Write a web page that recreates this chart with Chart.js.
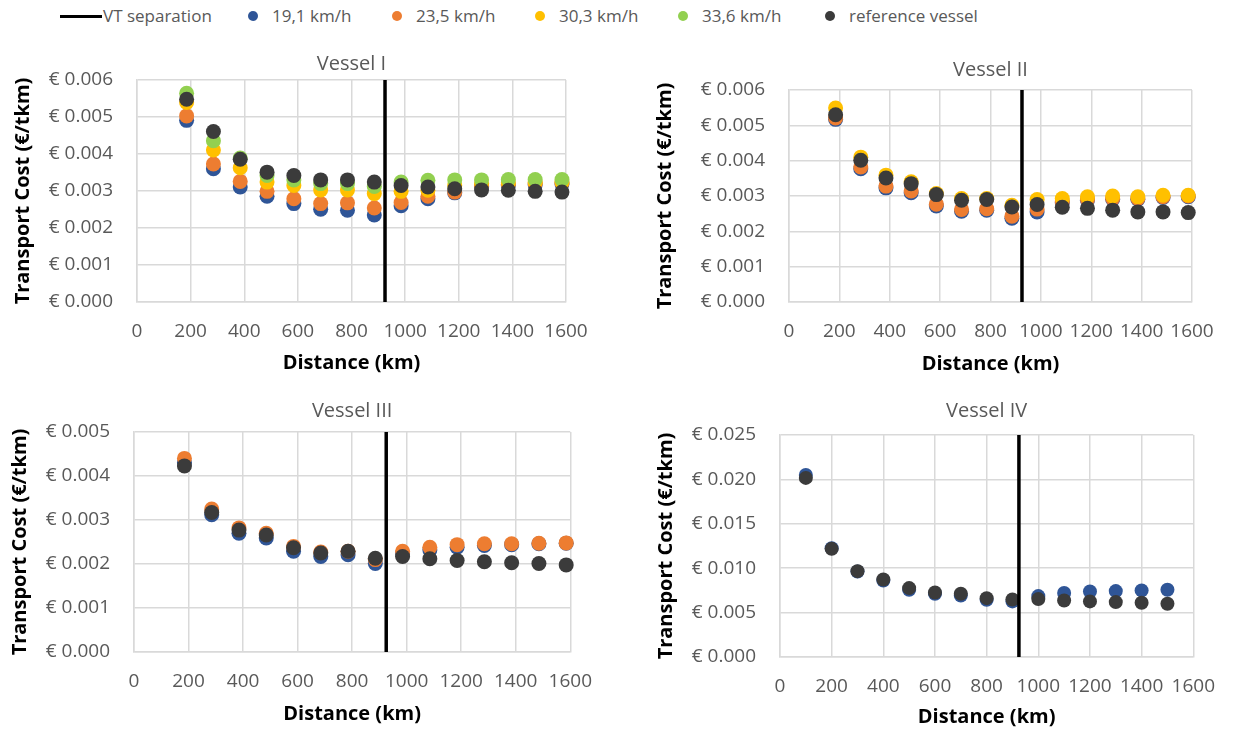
<!DOCTYPE html>
<html>
<head>
<meta charset="utf-8">
<script src="https://cdn.jsdelivr.net/npm/chart.js@4.4.1/dist/chart.umd.min.js"></script>
<style>
body { margin: 0; background: #fff; width: 1233px; height: 730px; position: relative; overflow: hidden; font-family: 'Open Sans', sans-serif; }
.box { position: absolute; }
.lg { position: absolute; top: 5px; white-space: nowrap; line-height: 22px; font-size: 17px; color: #595959; }
.dot { position: absolute; width: 10px; height: 10px; border-radius: 50%; top: 11px; }
.vtline { position: absolute; left: 60px; top: 15px; width: 42px; height: 3px; background: #000; }
</style>
</head>
<body>

<div id="legend"></div>

<div class="box" style="left:0px;top:40px;width:610px;height:340px"><canvas id="c1" width="610" height="340"></canvas></div>
<div class="box" style="left:640px;top:40px;width:593px;height:340px"><canvas id="c2" width="593" height="340"></canvas></div>
<div class="box" style="left:0px;top:385px;width:610px;height:345px"><canvas id="c3" width="610" height="345"></canvas></div>
<div class="box" style="left:640px;top:385px;width:593px;height:345px"><canvas id="c4" width="593" height="345"></canvas></div>

<script>
// distances (km)
var distA = [185, 285, 385, 485, 585, 685, 785, 885, 985, 1085, 1185, 1285, 1385, 1485, 1585];
var distB = [100, 200, 300, 400, 500, 600, 700, 800, 900, 1000, 1100, 1200, 1300, 1400, 1500];
var vtSeparation = 925;

// Vessel I
var v1_191 = [0.00491, 0.00360, 0.00311, 0.00286, 0.00266, 0.00251, 0.00248, 0.00235, 0.00260, 0.00279, 0.00295, 0.00312, 0.00315, 0.00317, 0.00319];
var v1_235 = [0.00503, 0.00373, 0.00326, 0.00299, 0.00279, 0.00266, 0.00268, 0.00254, 0.00269, 0.00286, 0.00297, 0.00315, 0.00318, 0.00320, 0.00322];
var v1_303 = [0.00539, 0.00411, 0.00363, 0.00324, 0.00315, 0.00303, 0.00303, 0.00293, 0.00299, 0.00302, 0.00315, 0.00321, 0.00322, 0.00323, 0.00324];
var v1_336 = [0.00564, 0.00436, 0.00389, 0.00342, 0.00330, 0.00320, 0.00320, 0.00312, 0.00324, 0.00329, 0.00330, 0.00330, 0.00331, 0.00331, 0.00331];
var v1_ref = [0.00548, 0.00461, 0.00386, 0.00351, 0.00342, 0.00330, 0.00330, 0.00324, 0.00315, 0.00311, 0.00306, 0.00303, 0.00302, 0.00299, 0.00297];

// Vessel II
var v2_191 = [0.00517, 0.00377, 0.00323, 0.00309, 0.00272, 0.00257, 0.00260, 0.00237, 0.00255, 0.00281, 0.00288, 0.00291, 0.00291, 0.00296, 0.00298];
var v2_235 = [0.00521, 0.00382, 0.00328, 0.00314, 0.00277, 0.00262, 0.00264, 0.00243, 0.00263, 0.00284, 0.00290, 0.00293, 0.00293, 0.00298, 0.00300];
var v2_303 = [0.00549, 0.00410, 0.00359, 0.00340, 0.00307, 0.00293, 0.00293, 0.00274, 0.00290, 0.00293, 0.00298, 0.00300, 0.00298, 0.00302, 0.00302];
var v2_ref = [0.00530, 0.00401, 0.00351, 0.00335, 0.00304, 0.00288, 0.00290, 0.00269, 0.00276, 0.00268, 0.00265, 0.00260, 0.00255, 0.00255, 0.00253];

// Vessel III
var v3_191 = [0.00430, 0.00312, 0.00270, 0.00259, 0.00229, 0.00217, 0.00221, 0.00201, 0.00225, 0.00232, 0.00238, 0.00242, 0.00244, 0.00246, 0.00247];
var v3_235 = [0.00440, 0.00325, 0.00282, 0.00270, 0.00240, 0.00227, 0.00229, 0.00210, 0.00229, 0.00238, 0.00244, 0.00246, 0.00246, 0.00247, 0.00248];
var v3_ref = [0.00423, 0.00317, 0.00277, 0.00266, 0.00237, 0.00225, 0.00229, 0.00213, 0.00217, 0.00212, 0.00208, 0.00205, 0.00203, 0.00201, 0.00198];

// Vessel IV
var v4_191 = [0.02050, 0.01226, 0.00963, 0.00862, 0.00757, 0.00712, 0.00693, 0.00645, 0.00626, 0.00686, 0.00720, 0.00738, 0.00742, 0.00750, 0.00757];
var v4_ref = [0.02017, 0.01218, 0.00967, 0.00873, 0.00776, 0.00727, 0.00712, 0.00663, 0.00648, 0.00652, 0.00637, 0.00626, 0.00618, 0.00611, 0.00600];

var seriesNames = ['19,1 km/h', '23,5 km/h', '30,3 km/h', '33,6 km/h', 'reference vessel'];
var seriesColors = ['#2F5597', '#ED7D31', '#FFC000', '#92D050', '#3B3B3B'];

var FONT = "'Open Sans', sans-serif";

// legend (html)
var lgPos = [253, 397, 540, 683, 830];
var legend = document.getElementById('legend');
var h = '<div class="vtline"></div><div class="lg" style="left:103px">VT separation</div>';
for (var i = 0; i < seriesNames.length; i++) {
    h += '<div class="dot" style="left:' + (lgPos[i] - 5) + 'px;background:' + seriesColors[i] + '"></div>';
    h += '<div class="lg" style="left:' + (lgPos[i] + 19) + 'px">' + seriesNames[i] + '</div>';
}
legend.innerHTML = h;

function pts(xs, ys) {
    var out = [];
    for (var i = 0; i < xs.length; i++) out.push({x: xs[i], y: ys[i]});
    return out;
}

function makePanel(cfg) {
    var datasets = [{
        type: 'line',
        label: 'VT separation',
        data: [{x: vtSeparation, y: 0}, {x: vtSeparation, y: cfg.ymax}],
        borderColor: '#000',
        borderWidth: 3.5,
        pointRadius: 0,
        showLine: true,
        clip: false
    }];
    // reverse so reference vessel sits on top
    for (var i = cfg.series.length - 1; i >= 0; i--) {
        var s = cfg.series[i];
        datasets.push({
            label: seriesNames[s.idx],
            data: pts(cfg.xs, s.data),
            backgroundColor: seriesColors[s.idx],
            borderColor: seriesColors[s.idx],
            borderWidth: 0,
            pointRadius: cfg.r,
            clip: false
        });
    }
    new Chart(document.getElementById(cfg.id), {
        type: 'scatter',
        data: {datasets: datasets},
        options: {
            responsive: false,
            animation: false,
            layout: {padding: {left: 0, right: cfg.pr, top: 0, bottom: 0}},
            plugins: {
                legend: {display: false},
                tooltip: {enabled: false},
                title: {
                    display: true, text: cfg.title, fullSize: false, color: '#595959',
                    font: {family: FONT, size: 20, weight: 'normal'},
                    padding: {top: cfg.tt, bottom: cfg.tb}
                }
            },
            scales: {
                x: {
                    type: 'linear', min: 0, max: 1600,
                    ticks: {
                        stepSize: 200, color: '#595959', font: {family: FONT, size: 19}, padding: 18,
                        maxRotation: 0, autoSkip: false,
                        callback: function (v) { return String(v); }
                    },
                    grid: {color: '#d9d9d9', lineWidth: 1.5, drawTicks: false},
                    border: {color: '#d9d9d9', width: 1.5},
                    title: {display: true, text: 'Distance (km)', color: '#000', font: {family: FONT, size: 20, weight: 'bold'}, padding: {top: 0, bottom: cfg.xtb}},
                    afterFit: function (scale) { scale.height = cfg.xh; }
                },
                y: {
                    type: 'linear', min: 0, max: cfg.ymax,
                    ticks: {
                        stepSize: cfg.ystep, color: '#595959', font: {family: FONT, size: 19}, padding: 24,
                        callback: function (v) { return '€ ' + v.toFixed(3); }
                    },
                    grid: {color: '#d9d9d9', lineWidth: 1.5, drawTicks: false},
                    border: {color: '#d9d9d9', width: 1.5},
                    title: {display: true, text: 'Transport Cost (€/tkm)', color: '#000', font: {family: FONT, size: 20, weight: 'bold'}, padding: {top: cfg.ytt, bottom: 0}},
                    afterFit: function (scale) { scale.width = cfg.yw; }
                }
            }
        }
    });
}

makePanel({
    id: 'c1', title: 'Vessel I', xs: distA, ymax: 0.006, ystep: 0.001, r: 7.5,
    yw: 137, pr: 44, tt: 12, tb: 4, xh: 78, xtb: 5, ytt: 11,
    series: [{idx: 0, data: v1_191}, {idx: 1, data: v1_235}, {idx: 2, data: v1_303}, {idx: 3, data: v1_336}, {idx: 4, data: v1_ref}]
});
makePanel({
    id: 'c2', title: 'Vessel II', xs: distA, ymax: 0.006, ystep: 0.001, r: 7.5,
    yw: 149, pr: 41, tt: 18, tb: 8, xh: 78, xtb: 4, ytt: 13,
    series: [{idx: 0, data: v2_191}, {idx: 1, data: v2_235}, {idx: 2, data: v2_303}, {idx: 4, data: v2_ref}]
});
makePanel({
    id: 'c3', title: 'Vessel III', xs: distA, ymax: 0.005, ystep: 0.001, r: 7.5,
    yw: 134, pr: 27, tt: 14, tb: 9, xh: 78, xtb: 4, ytt: 8,
    series: [{idx: 0, data: v3_191}, {idx: 1, data: v3_235}, {idx: 4, data: v3_ref}]
});
makePanel({
    id: 'c4', title: 'Vessel IV', xs: distB, ymax: 0.025, ystep: 0.005, r: 7,
    yw: 140, pr: 35, tt: 14, tb: 12, xh: 73, xtb: 1, ytt: 14,
    series: [{idx: 0, data: v4_191}, {idx: 4, data: v4_ref}]
});
</script>
</body>
</html>
